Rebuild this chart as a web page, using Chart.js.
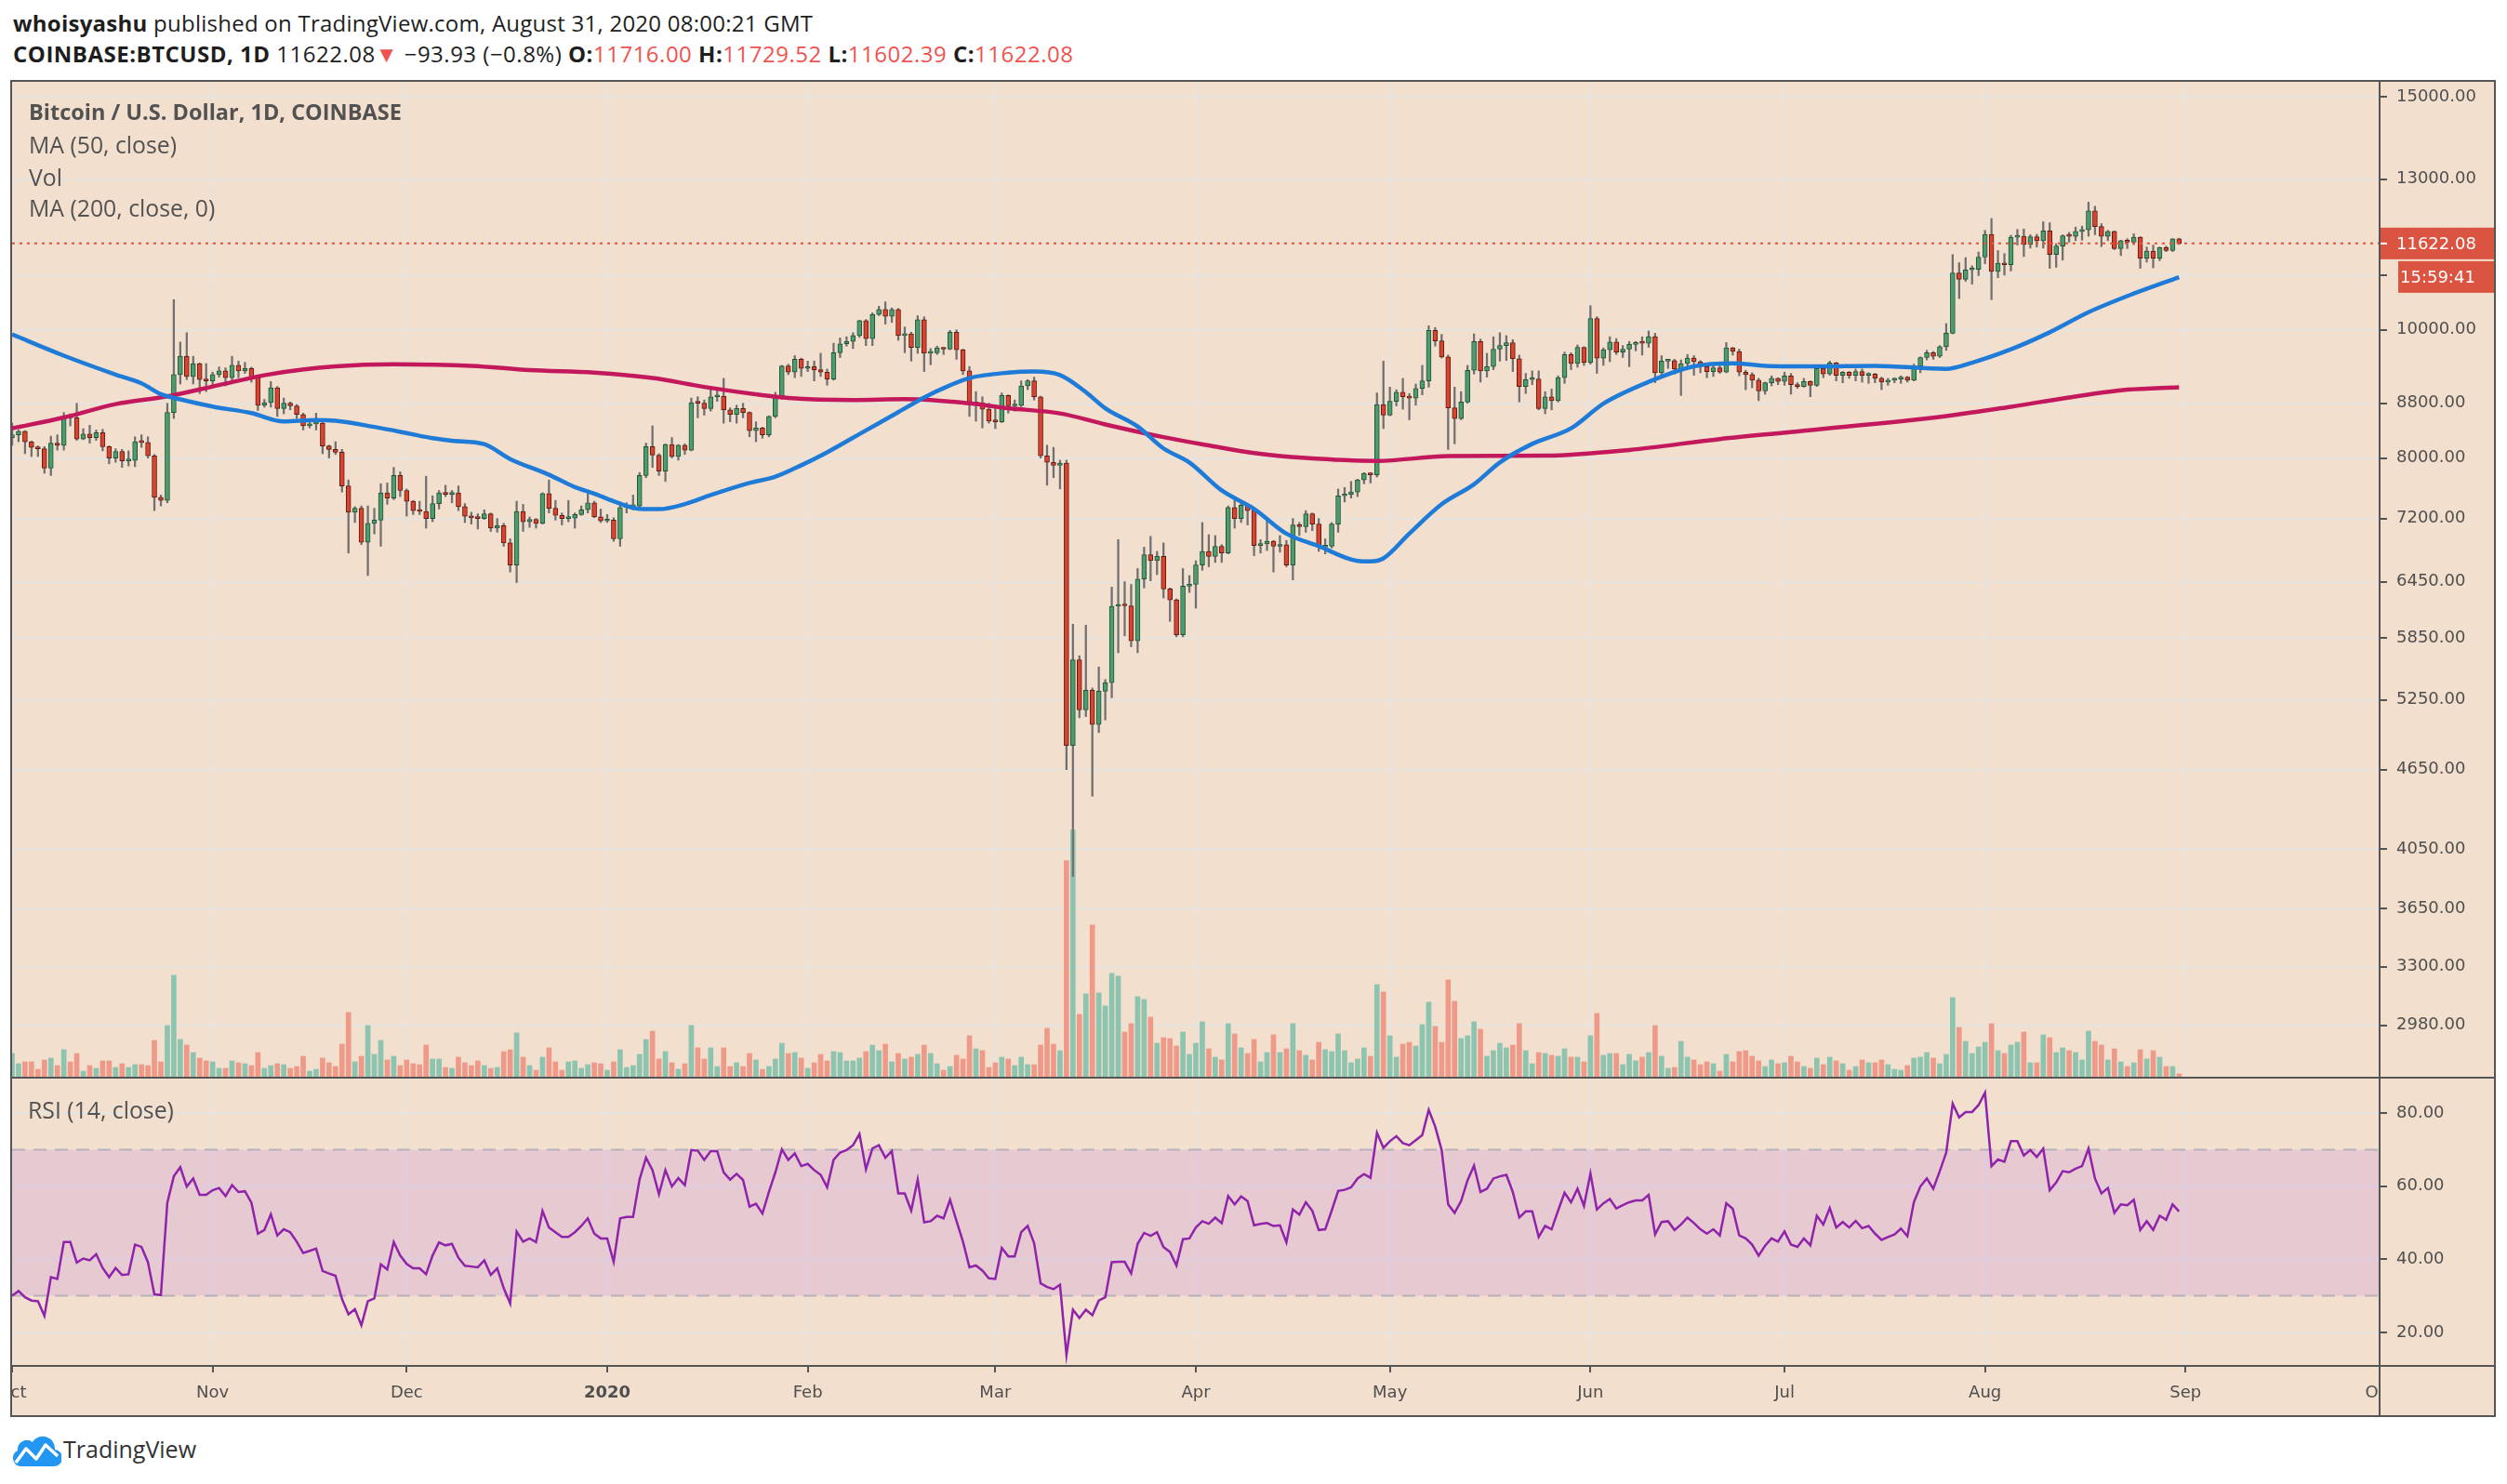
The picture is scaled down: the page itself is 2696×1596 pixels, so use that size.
<!DOCTYPE html>
<html>
<head>
<meta charset="utf-8">
<title>BTCUSD 1D - COINBASE</title>
<script src="https://cdn.jsdelivr.net/npm/chart.js"></script>
<style>
  html, body { margin: 0; padding: 0; background: #fff; }
  #page { position: relative; width: 2696px; height: 1596px; overflow: hidden; font-family: 'Open Sans', sans-serif; }
  .abs { position: absolute; white-space: nowrap; }
  .hdr { left: 14px; font-size: 24px; line-height: 32px; letter-spacing: 0.25px; color: #1e1e1e; }
  .legend { left: 31px; font-size: 24.8px; line-height: 30px; color: #525252; }
  .red { color: #ef5350; }
  .rule { position: absolute; background: #555; }
  canvas { position: absolute; }
</style>
</head>
<body>
<div id="page">
  <div class="abs hdr" style="top:9px"><b>whoisyashu</b> published on TradingView.com, August 31, 2020 08:00:21 GMT</div>
  <div class="abs hdr" style="top:42px;letter-spacing:0.5px"><b>COINBASE:BTCUSD, 1D</b> 11622.08<span class="red">▼</span> −93.93 (−0.8%) <b>O:</b><span class="red">11716.00</span> <b>H:</b><span class="red">11729.52</span> <b>L:</b><span class="red">11602.39</span> <b>C:</b><span class="red">11622.08</span></div>

  <div class="abs" style="left:12px;top:87px;width:2671px;height:1436px;background:#f2dfce"></div>
  <canvas id="priceChart" width="2670" height="1071" style="left:13px;top:88px"></canvas>
  <canvas id="rsiChart" width="2670" height="364" style="left:13px;top:1159px"></canvas>

  <div class="rule" style="left:11px;top:86px;width:2673px;height:2px"></div>
  <div class="rule" style="left:11px;top:1522px;width:2673px;height:2px"></div>
  <div class="rule" style="left:11px;top:86px;width:2px;height:1438px"></div>
  <div class="rule" style="left:2682px;top:86px;width:2px;height:1438px"></div>
  <div class="rule" style="left:2558px;top:87px;width:2px;height:1436px"></div>
  <div class="rule" style="left:12px;top:1158px;width:2671px;height:2px"></div>
  <div class="rule" style="left:12px;top:1468px;width:2671px;height:2px"></div>

  <div class="abs legend" style="top:105px;font-weight:700;font-size:23.5px">Bitcoin / U.S. Dollar, 1D, COINBASE</div>
  <div class="abs legend" style="top:140px">MA (50, close)</div>
  <div class="abs legend" style="top:175px">Vol</div>
  <div class="abs legend" style="top:208px">MA (200, close, 0)</div>
  <div class="abs legend" style="top:1178px;left:30px">RSI (14, close)</div>

  <svg class="abs" style="left:12px;top:1542px" width="54" height="36" viewBox="0 0 54 36">
    <path d="M10 35 H45 A9 9 0 0 0 47 17 A13 13 0 0 0 23 9 A10 10 0 0 0 7 18 A9 9 0 0 0 10 35 Z" fill="#2196f3"/>
    <polyline points="5,31 16,16 27,27 37,12 50,24" fill="none" stroke="#fff" stroke-width="3.5" stroke-linejoin="round"/>
  </svg>
  <div class="abs" style="left:68px;top:1542px;font-size:25px;line-height:32px;color:#333">TradingView</div>
</div>

<script>
// day 0 = Oct 1, 2019 ; one candle per day up to Aug 31, 2020 (day 335)
const monthTickDays = [0, 31, 61, 92, 123, 152, 183, 213, 244, 274, 305, 336, 366];
const monthTickLabels = ['Oct', 'Nov', 'Dec', '2020', 'Feb', 'Mar', 'Apr', 'May', 'Jun', 'Jul', 'Aug', 'Sep', 'Oct'];
const priceTicks = [2980, 3300, 3650, 4050, 4650, 5250, 5850, 6450, 7200, 8000, 8800, 10000, 11000, 13000, 15000];
const rsiTicks = [20, 40, 60, 80];

const firstOpen = 8290;
const closes = [
  8330, 8380, 8230, 8150, 8130, 7860, 8210, 8180, 8590, 8580,
  8270, 8340, 8290, 8360, 8160, 8000, 8090, 7960, 7965, 8230,
  8220, 8030, 7470, 7430, 8660, 9250, 9550, 9220, 9430, 9170,
  9150, 9250, 9310, 9200, 9400, 9310, 9350, 9200, 8770, 8810,
  9040, 8720, 8800, 8760, 8630, 8460, 8490, 8500, 8170, 8120,
  8080, 7620, 7280, 7330, 6910, 7140, 7180, 7530, 7460, 7760,
  7560, 7420, 7300, 7290, 7200, 7390, 7530, 7510, 7530, 7350,
  7230, 7210, 7200, 7260, 7080, 7110, 6900, 6640, 7290, 7160,
  7190, 7140, 7520, 7330, 7240, 7200, 7205, 7250, 7310, 7400,
  7220, 7170, 7180, 6950, 7340, 7350, 7360, 7760, 8160, 8040,
  7820, 8190, 8020, 8180, 8110, 8810, 8800, 8720, 8900, 8910,
  8700, 8630, 8720, 8660, 8390, 8430, 8330, 8600, 8890, 9390,
  9290, 9500, 9350, 9380, 9330, 9290, 9180, 9610, 9760, 9800,
  9900, 10160, 9850, 10270, 10360, 10240, 10360, 9900, 9930, 9700,
  10180, 9600, 9610, 9690, 9670, 9960, 9660, 9310, 8790, 8810,
  8710, 8530, 8520, 8920, 8760, 8765, 9070, 9150, 8900, 8030,
  7940, 7900, 7930, 4850, 5630, 5160, 5340, 5030, 5330, 5410,
  6180, 6190, 6185, 5820, 6480, 6760, 6690, 6740, 6370, 6250,
  5880, 6400, 6420, 6640, 6800, 6740, 6860, 6780, 7340, 7200,
  7370, 7300, 6870, 6890, 6920, 6860, 6880, 6640, 7120, 7100,
  7260, 7130, 6850, 6860, 7130, 7490, 7510, 7540, 7700, 7790,
  7770, 8780, 8620, 8830, 8970, 8900, 8880, 9030, 9150, 9990,
  9810, 9540, 8730, 8570, 8820, 9320, 9800, 9310, 9380, 9670,
  9730, 9780, 9510, 9060, 9170, 9180, 8720, 8900, 8840, 9200,
  9580, 9430, 9700, 9450, 10200, 9520, 9660, 9790, 9620, 9670,
  9750, 9780, 9770, 9880, 9280, 9470, 9480, 9340, 9430, 9520,
  9460, 9380, 9300, 9360, 9290, 9690, 9630, 9290, 9250, 9160,
  8990, 9120, 9190, 9140, 9230, 9090, 9060, 9140, 9080, 9350,
  9260, 9440, 9240, 9290, 9240, 9300, 9240, 9260, 9190, 9130,
  9160, 9180, 9210, 9160, 9390, 9530, 9610, 9550, 9710, 9940,
  11040, 10920, 11100, 11110, 11350, 11810, 11070, 11230, 11200, 11750,
  11770, 11600, 11760, 11680, 11880, 11400, 11570, 11780, 11770, 11870,
  11900, 12300, 11970, 11770, 11870, 11520, 11680, 11650, 11750, 11330,
  11470, 11330, 11540, 11480, 11716, 11622.08
];
const highs = [
  8500, 8400, 8390, 8240, 8170, 8160, 8310, 8330, 8660, 8640,
  8800, 8420, 8470, 8400, 8410, 8170, 8130, 8120, 8100, 8300,
  8330, 8300, 8050, 7500, 8800, 10540, 9790, 9950, 9550, 9440,
  9430, 9290, 9375, 9360, 9550, 9470, 9450, 9370, 9220, 8860,
  9140, 9060, 8880, 8820, 8780, 8650, 8530, 8650, 8520, 8180,
  8230, 8120, 7700, 7350, 7360, 7360, 7330, 7650, 7660, 7870,
  7810, 7580, 7430, 7420, 7750, 7490, 7560, 7630, 7560, 7620,
  7390, 7280, 7260, 7310, 7270, 7200, 7140, 6950, 7420, 7380,
  7220, 7200, 7530, 7700, 7430, 7270, 7430, 7270, 7360, 7520,
  7420, 7320, 7250, 7210, 7410, 7400, 7500, 7800, 8210, 8460,
  8060, 8200, 8290, 8190, 8200, 8880, 8900, 8850, 9010, 9000,
  9190, 8730, 8770, 8800, 8670, 8520, 8440, 8610, 8970, 9400,
  9420, 9560, 9520, 9470, 9470, 9600, 9340, 9770, 9860, 9880,
  9950, 10170, 10180, 10300, 10420, 10500, 10390, 10380, 10050, 9960,
  10250, 10230, 9680, 9720, 9700, 9990, 10000, 9670, 9380, 8980,
  8900, 8800, 8750, 8960, 8930, 8850, 9150, 9170, 9210, 8910,
  8180, 8150, 7970, 7970, 5990, 5670, 5980, 5360, 5560, 5440,
  6390, 6940, 6450, 6420, 6600, 6850, 6980, 6800, 6900, 6380,
  6260, 6600, 6520, 6690, 7150, 7000, 6990, 6880, 7360, 7460,
  7420, 7380, 7310, 6940, 7200, 6930, 6990, 6930, 7200, 7150,
  7300, 7270, 7200, 6950, 7150, 7580, 7600, 7680, 7710, 7800,
  7800, 8960, 9470, 9050, 9010, 9190, 8950, 9100, 9400, 10070,
  10040, 9920, 9570, 9050, 8980, 9400, 9930, 9840, 9600, 9880,
  9950, 9900, 9830, 9570, 9270, 9310, 9310, 8980, 9020, 9230,
  9620, 9610, 9740, 9710, 10430, 10230, 9690, 9880, 9850, 9730,
  9800, 9800, 9880, 9980, 9940, 9560, 9490, 9500, 9490, 9580,
  9560, 9480, 9400, 9400, 9420, 9780, 9700, 9670, 9320, 9280,
  9190, 9130, 9230, 9200, 9290, 9270, 9120, 9190, 9150, 9360,
  9360, 9470, 9450, 9300, 9300, 9340, 9340, 9280, 9270, 9210,
  9190, 9200, 9230, 9220, 9420, 9540, 9650, 9630, 9730, 10110,
  11400, 11240, 11340, 11180, 11450, 11890, 12140, 11480, 11420, 11790,
  11910, 11920, 11800, 11810, 12070, 12050, 11620, 11800, 11850, 11960,
  11980, 12490, 12400, 12030, 11890, 11880, 11690, 11720, 11820, 11760,
  11550, 11590, 11550, 11570, 11720, 11729.52
];
const lows = [
  8180, 8230, 8060, 8020, 8020, 7790, 7760, 8110, 8110, 8460,
  8250, 8260, 8210, 8250, 8100, 7920, 7940, 7870, 7890, 7880,
  8150, 8000, 7300, 7360, 7400, 8570, 9100, 9170, 9100, 8950,
  8980, 9040, 9210, 9070, 9130, 9200, 9270, 9130, 8690, 8740,
  8740, 8600, 8640, 8700, 8570, 8400, 8430, 8400, 8060, 8000,
  8050, 7540, 6780, 7150, 6880, 6520, 7010, 6860, 7380, 7440,
  7480, 7230, 7250, 7250, 7080, 7160, 7320, 7480, 7400, 7300,
  7150, 7130, 7070, 7190, 7040, 7030, 6860, 6560, 6440, 7040,
  7090, 7080, 7130, 7270, 7180, 7120, 7160, 7080, 7240, 7270,
  7210, 7150, 7150, 6920, 6860, 7270, 7310, 7350, 7730, 7870,
  7760, 7680, 8000, 7970, 8050, 8100, 8580, 8620, 8680, 8830,
  8500, 8520, 8500, 8580, 8300, 8230, 8280, 8300, 8580, 8860,
  9250, 9200, 9220, 9300, 9150, 9220, 9080, 9160, 9530, 9720,
  9680, 9870, 9730, 9730, 10250, 10100, 10130, 9820, 9610, 9470,
  9600, 9300, 9410, 9580, 9580, 9660, 9500, 9250, 8600, 8530,
  8430, 8500, 8420, 8510, 8650, 8680, 8750, 9010, 8850, 8000,
  7630, 7730, 7580, 4650, 3860, 5090, 5100, 4440, 4960, 5070,
  5270, 5700, 5870, 5760, 5700, 6380, 6460, 6530, 6270, 6020,
  5860, 5860, 6330, 6160, 6580, 6620, 6670, 6670, 6770, 7080,
  7150, 7120, 6750, 6780, 6810, 6560, 6790, 6620, 6470, 6990,
  7030, 7050, 6800, 6770, 6840, 7030, 7410, 7460, 7480, 7650,
  7660, 7740, 8420, 8610, 8760, 8710, 8550, 8770, 8930, 9050,
  9720, 9520, 8120, 8200, 8550, 8800, 9260, 9130, 9210, 9330,
  9470, 9480, 9300, 8820, 8950, 9090, 8700, 8640, 8700, 8820,
  9110, 9330, 9370, 9400, 9420, 9270, 9400, 9460, 9580, 9530,
  9380, 9640, 9570, 9700, 9120, 9240, 9350, 9260, 8920, 9370,
  9240, 9280, 9200, 9220, 9270, 9280, 9570, 9230, 9010, 9040,
  8840, 8940, 9070, 9090, 9080, 8940, 9030, 9050, 8900, 9060,
  9200, 9240, 9150, 9120, 9190, 9150, 9130, 9110, 9120, 9010,
  9080, 9120, 9110, 9130, 9150, 9280, 9490, 9500, 9530, 9650,
  9930, 10560, 10880, 10830, 10990, 11220, 10540, 10950, 11000, 11080,
  11590, 11360, 11530, 11550, 11530, 11130, 11150, 11290, 11650, 11680,
  11690, 11770, 11800, 11560, 11680, 11500, 11380, 11520, 11600, 11130,
  11250, 11140, 11280, 11460, 11460, 11602.39
];
// daily volume, relative
const volumes = [
  26, 15, 17, 17, 9, 19, 21, 13, 30, 17,
  26, 7, 13, 10, 18, 18, 11, 15, 11, 14,
  14, 13, 40, 17, 56, 110, 41, 35, 27, 21,
  18, 17, 10, 10, 18, 16, 15, 13, 27, 10,
  13, 15, 14, 10, 12, 23, 7, 9, 21, 16,
  12, 36, 70, 17, 23, 56, 25, 40, 19, 23,
  13, 19, 15, 14, 35, 20, 20, 11, 10, 22,
  16, 13, 18, 13, 10, 11, 28, 30, 48, 22,
  13, 8, 22, 32, 17, 8, 17, 18, 10, 14,
  16, 15, 8, 17, 30, 11, 13, 25, 41, 50,
  20, 28, 16, 9, 15, 56, 32, 20, 32, 12,
  32, 12, 16, 12, 26, 19, 9, 12, 20, 37,
  26, 27, 21, 10, 16, 25, 18, 28, 27, 18,
  18, 21, 28, 35, 29, 36, 17, 26, 20, 22,
  25, 35, 26, 15, 8, 12, 24, 20, 45, 31,
  29, 11, 16, 22, 20, 13, 22, 14, 14, 35,
  53, 36, 29, 233, 266, 68, 90, 164, 91, 77,
  112, 109, 49, 58, 87, 84, 65, 37, 43, 42,
  34, 49, 25, 37, 60, 31, 22, 19, 58, 47,
  32, 26, 41, 17, 27, 46, 27, 31, 58, 29,
  24, 19, 38, 30, 28, 47, 29, 16, 20, 32,
  23, 100, 92, 45, 22, 36, 38, 34, 57, 81,
  55, 38, 105, 82, 42, 45, 60, 52, 23, 29,
  37, 32, 35, 58, 29, 15, 27, 26, 24, 23,
  31, 22, 22, 17, 45, 69, 24, 26, 26, 14,
  25, 18, 22, 27, 56, 23, 10, 11, 39, 22,
  19, 14, 17, 15, 7, 25, 17, 28, 29, 23,
  18, 12, 19, 15, 16, 23, 17, 12, 10, 21,
  14, 22, 18, 15, 8, 12, 19, 16, 16, 19,
  14, 9, 8, 13, 21, 22, 27, 21, 15, 25,
  86, 54, 39, 26, 33, 38, 58, 29, 26, 35,
  38, 49, 16, 16, 46, 43, 27, 32, 29, 27,
  19, 50, 39, 35, 19, 31, 17, 12, 16, 30,
  20, 29, 22, 12, 12, 4
];
const rsiValues = [
  30.0, 31.3, 29.6, 28.7, 28.5, 24.5, 35.1, 34.6, 44.7, 44.7,
  39.1, 40.2, 39.7, 41.4, 37.6, 35.1, 37.6, 35.7, 35.9, 44.0,
  43.4, 39.2, 30.4, 30.2, 55.5, 62.7, 65.2, 59.9, 62.1, 57.6,
  57.6, 58.9, 59.5, 57.3, 60.3, 58.4, 58.6, 55.5, 47.0, 48.0,
  52.3, 46.5, 48.2, 47.4, 44.8, 41.7, 42.3, 42.9, 36.8, 36.1,
  35.5, 29.1, 24.9, 26.3, 21.9, 28.5, 29.3, 38.6, 37.2, 44.7,
  41.0, 38.7, 37.5, 37.5, 35.9, 41.0, 44.6, 43.8, 44.2, 40.4,
  38.2, 38.0, 37.8, 39.7, 35.7, 37.5, 32.1, 27.9, 47.6, 44.8,
  45.7, 44.7, 53.2, 48.7, 47.4, 46.1, 46.1, 47.4, 49.1, 51.2,
  47.0, 45.7, 45.7, 39.3, 51.2, 51.6, 51.6, 61.8, 67.8, 64.4,
  57.8, 64.4, 59.9, 62.2, 60.3, 69.9, 69.7, 67.2, 69.6, 69.6,
  63.8, 61.8, 63.4, 61.7, 54.4, 55.2, 52.5, 58.4, 63.8, 70.1,
  67.2, 69.0, 65.5, 66.1, 64.4, 63.1, 59.7, 67.2, 69.2, 69.9,
  71.2, 74.3, 64.6, 70.3, 71.2, 67.8, 69.6, 58.0, 58.0, 53.3,
  61.8, 50.1, 50.4, 51.9, 51.2, 56.3, 50.5, 44.8, 37.8, 38.3,
  36.9, 34.8, 34.6, 43.1, 40.8, 40.8, 47.4, 49.1, 44.4, 33.4,
  32.4, 31.8, 33.0, 13.8, 26.2, 23.9, 26.2, 24.7, 28.7, 29.6,
  39.2, 39.3, 39.3, 36.1, 44.2, 47.2, 46.4, 47.4, 43.3, 42.0,
  38.3, 45.5, 45.7, 48.7, 50.4, 49.7, 51.4, 49.9, 57.3, 55.0,
  57.2, 55.9, 49.3, 49.7, 49.9, 49.1, 49.3, 44.6, 53.6, 52.2,
  55.6, 53.3, 48.0, 48.2, 53.3, 58.7, 59.0, 59.7, 62.1, 63.3,
  62.3, 74.6, 70.5, 72.3, 73.7, 71.8, 71.2, 72.6, 74.0, 80.9,
  76.3, 69.9, 55.0, 52.7, 55.9, 61.6, 65.6, 58.4, 59.3, 62.1,
  62.7, 63.1, 58.4, 51.4, 53.1, 53.1, 46.1, 49.1, 48.2, 53.3,
  58.2, 55.6, 59.3, 54.6, 63.5, 53.6, 55.3, 56.5, 53.9, 54.8,
  55.6, 56.1, 56.1, 57.6, 46.8, 50.2, 50.4, 48.0, 49.5, 51.4,
  49.9, 48.2, 47.0, 48.2, 46.5, 55.3, 53.8, 46.5, 45.7, 44.0,
  41.0, 43.7, 45.7, 44.8, 47.6, 44.0, 43.4, 45.7, 43.8, 51.9,
  49.5, 54.0, 48.7, 50.2, 48.7, 50.5, 48.5, 49.1, 47.0, 45.3,
  46.1, 46.8, 48.4, 46.3, 55.6, 59.9, 62.1, 59.3, 64.1, 69.2,
  82.6, 78.8, 80.3, 80.3, 82.2, 85.6, 65.5, 67.3, 66.7, 72.3,
  72.3, 68.4, 69.9, 68.0, 70.3, 58.9, 61.0, 64.1, 63.8, 64.8,
  65.5, 70.3, 62.1, 58.0, 59.5, 52.7, 55.0, 54.8, 56.3, 48.0,
  50.4, 48.0, 51.9, 50.8, 55.0, 53.1
];
// moving averages (day index, value)
const ma50Days = [0, 8, 16, 20, 23, 26, 31, 37, 42, 47, 50, 56, 61, 65, 68, 73, 77, 83, 87, 90,
  93, 97, 100, 104, 108, 114, 118, 122, 126, 132, 137, 141, 145, 148, 154, 158, 162, 166, 169, 174,
  178, 182, 187, 192, 197, 202, 208, 210, 212, 216, 221, 226, 230, 235, 241, 246, 253, 260, 266, 271,
  279, 288, 299, 303, 309, 315, 321, 328, 335];
const ma50Values = [9920, 9560, 9250, 9110, 8940, 8860, 8750, 8650, 8525, 8545, 8535, 8445, 8355, 8280, 8245, 8195, 7985, 7770, 7605, 7520,
  7420, 7322, 7318, 7383, 7500, 7660, 7745, 7900, 8080, 8394, 8665, 8890, 9080, 9195, 9282, 9300, 9243, 8972, 8724, 8452,
  8135, 7939, 7561, 7322, 7013, 6862, 6688, 6682, 6717, 7013, 7381, 7642, 7939, 8199, 8424, 8795, 9134, 9383, 9434, 9393,
  9383, 9393, 9343, 9444, 9666, 9957, 10312, 10652, 10961];
const ma200Days = [0, 8, 16, 24, 32, 40, 50, 59, 71, 80, 90, 99, 107, 116, 120, 130, 138, 148, 154, 162,
  169, 178, 185, 192, 200, 211, 222, 237, 250, 264, 277, 299, 309, 318, 327, 335];
const ma200Values = [8424, 8584, 8787, 8906, 9084, 9258, 9383, 9419, 9393, 9322, 9282, 9196, 9054, 8925, 8881, 8849, 8862, 8799, 8725, 8646,
  8482, 8296, 8177, 8069, 8000, 7960, 8026, 8032, 8113, 8269, 8388, 8605, 8747, 8890, 9011, 9049];

const BG = '#f2dfce';
const GRID = '#e7e3df';
const AXIS_TEXT = '#4f4f4f';
const TAG = '#db5441';
const axisFont = { family: 'DejaVu Sans', size: 18 };

// crypto trades around the clock: each candle opens at the previous close
const opens = closes.map((c, i) => (i === 0 ? firstOpen : closes[i - 1]));
const rising = closes.map((c, i) => c >= opens[i]);
const lastPrice = closes[closes.length - 1];

const monthTicks = s => { s.ticks = monthTickDays.map(v => ({ value: v })); };

const priceTag = {
  id: 'priceTag',
  afterDraw(chart) {
    const { ctx, chartArea } = chart;
    const y = chart.scales.y.getPixelForValue(lastPrice);
    const x0 = chartArea.right;
    ctx.save();
    ctx.fillStyle = TAG;
    ctx.fillRect(x0, y - 17, 124, 34);
    ctx.fillRect(x0 + 20, y + 19, 104, 34);
    ctx.fillStyle = '#fff';
    ctx.fillRect(x0, y - 1, 8, 2);
    ctx.font = '18px "DejaVu Sans"';
    ctx.textBaseline = 'middle';
    ctx.textAlign = 'left';
    ctx.fillText(lastPrice.toFixed(2), x0 + 18, y + 1);
    ctx.fillText('15:59:41', x0 + 22, y + 37);
    ctx.restore();
  }
};

new Chart(document.getElementById('priceChart'), {
  type: 'bar',
  data: {
    datasets: [
      {
        type: 'line', label: 'last', order: 0,
        data: [{ x: 0, y: lastPrice }, { x: 366, y: lastPrice }],
        borderColor: '#e2513c', borderWidth: 2, borderDash: [3, 5], pointRadius: 0
      },
      {
        type: 'line', label: 'MA 50', order: 1,
        data: ma50Days.map((d, i) => ({ x: d, y: ma50Values[i] })),
        borderColor: '#1f7bd8', borderWidth: 4.5, pointRadius: 0, cubicInterpolationMode: 'monotone'
      },
      {
        type: 'line', label: 'MA 200', order: 2,
        data: ma200Days.map((d, i) => ({ x: d, y: ma200Values[i] })),
        borderColor: '#c4185c', borderWidth: 4.5, pointRadius: 0, cubicInterpolationMode: 'monotone'
      },
      {
        label: 'body', order: 3,
        data: closes.map((c, i) => ({ x: i, y: [opens[i], c] })),
        backgroundColor: rising.map(u => (u ? '#4e9b70' : '#d8442f')),
        borderColor: rising.map(u => (u ? '#1f5534' : '#5e1c14')),
        borderWidth: 1, borderSkipped: false, barThickness: 5, minBarLength: 2, grouped: false
      },
      {
        label: 'wick', order: 4,
        data: highs.map((h, i) => ({ x: i, y: [lows[i], h] })),
        backgroundColor: '#707070', barThickness: 1.6, grouped: false
      },
      {
        label: 'volume', order: 5, yAxisID: 'yVol',
        data: volumes.map((v, i) => ({ x: i, y: v })),
        backgroundColor: rising.map(u => (u ? '#8cc4af' : '#ef9a89')),
        barThickness: 5, grouped: false
      }
    ]
  },
  options: {
    responsive: false, animation: false, devicePixelRatio: 1, events: [],
    layout: { padding: 0, autoPadding: false },
    plugins: { legend: { display: false }, tooltip: { enabled: false } },
    scales: {
      x: {
        type: 'linear', min: 0, max: 366, offset: false,
        grid: { color: GRID, lineWidth: 2, drawTicks: false, offset: false },
        border: { display: false },
        ticks: { display: false },
        afterBuildTicks: monthTicks,
        afterFit: s => { s.height = 0; s.paddingLeft = 0; s.paddingRight = 0; }
      },
      y: {
        type: 'logarithmic', position: 'right', min: 2720, max: 15400, beginAtZero: false,
        grid: { color: GRID, lineWidth: 2, drawTicks: true, tickLength: 8, tickColor: '#555' },
        border: { display: false },
        ticks: {
          font: axisFont, color: AXIS_TEXT, padding: 10, autoSkip: false,
          callback: v => (v === 11000 ? '' : Number(v).toFixed(2))
        },
        afterBuildTicks: s => { s.ticks = priceTicks.map(v => ({ value: v })); },
        afterFit: s => { s.width = 124; s.paddingTop = 0; s.paddingBottom = 0; }
      },
      yVol: {
        type: 'linear', display: false, min: 0, max: Math.max(...volumes) * 4.02
      }
    }
  },
  plugins: [priceTag]
});

const rsiBand = {
  id: 'rsiBand',
  beforeDatasetsDraw(chart) {
    const { ctx, chartArea } = chart;
    const y = chart.scales.y;
    const top = y.getPixelForValue(70);
    const bottom = y.getPixelForValue(30);
    ctx.save();
    ctx.fillStyle = 'rgba(165,60,235,0.13)';
    ctx.fillRect(chartArea.left, top, chartArea.width, bottom - top);
    ctx.strokeStyle = '#b7afba';
    ctx.lineWidth = 2;
    ctx.setLineDash([14, 9]);
    [top, bottom].forEach(py => {
      ctx.beginPath();
      ctx.moveTo(chartArea.left, py);
      ctx.lineTo(chartArea.right, py);
      ctx.stroke();
    });
    ctx.restore();
  },
  afterDraw(chart) {
    // the price axis strip hides the tail of the last month label
    const { ctx, chartArea, width, height } = chart;
    ctx.save();
    ctx.fillStyle = BG;
    ctx.fillRect(chartArea.right + 1, chartArea.bottom + 2, width - chartArea.right, height - chartArea.bottom);
    ctx.restore();
  }
};

new Chart(document.getElementById('rsiChart'), {
  type: 'line',
  data: {
    datasets: [{
      label: 'RSI',
      data: rsiValues.map((v, i) => ({ x: i, y: v })),
      borderColor: '#8f23a9', borderWidth: 2.5, pointRadius: 0, tension: 0
    }]
  },
  options: {
    responsive: false, animation: false, devicePixelRatio: 1, events: [],
    layout: { padding: 0, autoPadding: false },
    plugins: { legend: { display: false }, tooltip: { enabled: false } },
    scales: {
      x: {
        type: 'linear', min: 0, max: 366,
        grid: { color: GRID, lineWidth: 2, tickLength: 7, tickColor: '#555' },
        border: { display: false },
        ticks: {
          autoSkip: false, maxRotation: 0, padding: 12, color: AXIS_TEXT,
          font: c => ({ family: 'DejaVu Sans', size: 18, weight: c.tick && c.tick.label === '2020' ? 'bold' : 'normal' }),
          callback: v => monthTickLabels[monthTickDays.indexOf(v)]
        },
        afterBuildTicks: monthTicks,
        afterFit: s => { s.height = 54; s.paddingLeft = 0; s.paddingRight = 0; }
      },
      y: {
        type: 'linear', position: 'right', min: 10.8, max: 89.7,
        grid: { color: GRID, lineWidth: 2, tickLength: 8, tickColor: '#555' },
        border: { display: false },
        ticks: { font: axisFont, color: AXIS_TEXT, padding: 10, autoSkip: false, callback: v => Number(v).toFixed(2) },
        afterBuildTicks: s => { s.ticks = rsiTicks.map(v => ({ value: v })); },
        afterFit: s => { s.width = 124; s.paddingTop = 0; s.paddingBottom = 0; }
      }
    }
  },
  plugins: [rsiBand]
});
</script>
</body>
</html>
